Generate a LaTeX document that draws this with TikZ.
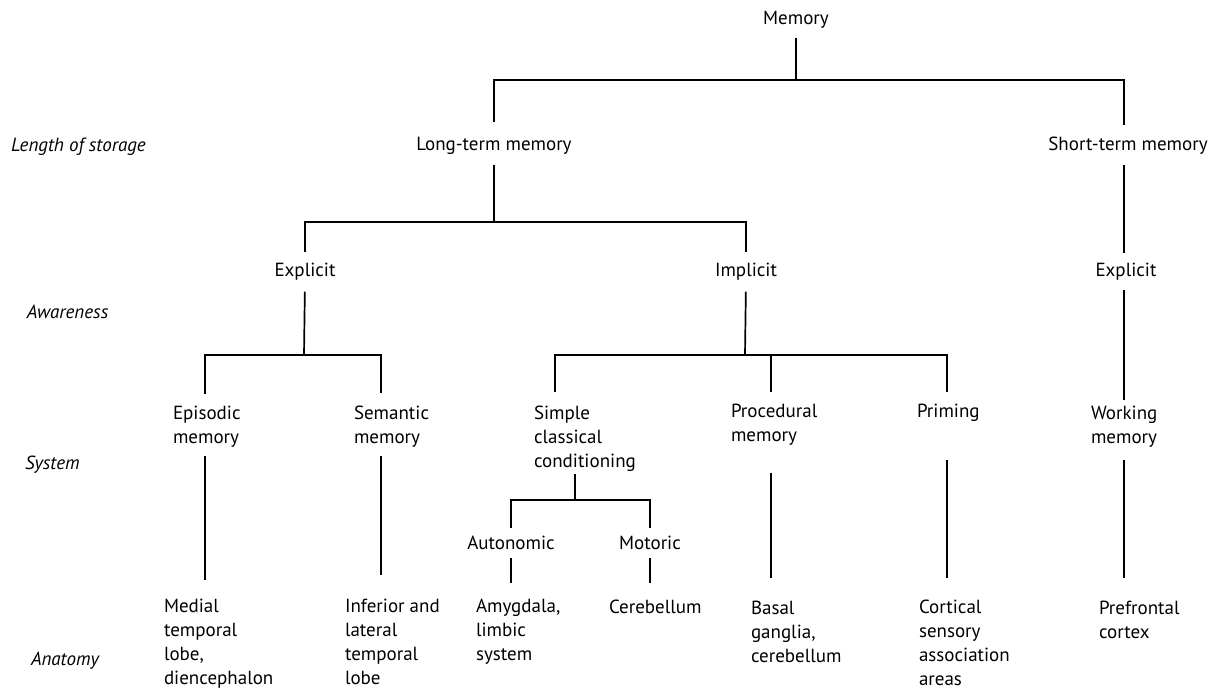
\documentclass[tikz,border=0pt]{standalone}
\usepackage{fontspec}
\setmainfont{PT Sans}
\newcommand\lblfont{\fontsize{19}{24}\selectfont}
\tikzset{
  lbl/.style={font=\lblfont, inner sep=0pt, outer sep=0pt},
  ml/.style={lbl, align=left, anchor=north west},
  rowlbl/.style={font=\lblfont\itshape, inner sep=0pt, outer sep=0pt, anchor=west},
  ln/.style={line width=1.7pt, black},
}
\begin{document}
\begin{tikzpicture}[x=1pt, y=-1pt]
\useasboundingbox (0,0) rectangle (1226,691);
% row labels
\node[rowlbl] (los) at (11,147) {Length of storage};
\node[rowlbl] (aw)  at (27,312) {Awareness};
\node[rowlbl] (sys) at (25,465) {System};
\node[rowlbl] (ana) at (31,661) {Anatomy};
% single-line nodes
\node[lbl] (mem) at (796,20) {Memory};
\node[lbl] (lt)  at (494,146) {Long-term memory};
\node[lbl] (st)  at (1128,146) {Short-term memory};
\node[lbl] (ex1) at (305,272) {Explicit};
\node[lbl] (im)  at (746,272) {Implicit};
\node[lbl] (ex2) at (1126,272) {Explicit};
\node[lbl] (aut) at (511,543) {Autonomic};
\node[lbl] (mot) at (650,543) {Motoric};
% multi-line nodes
\node[ml] (epi) at (173,406) {Episodic\\memory};
\node[ml] (sem) at (354,406) {Semantic\\memory};
\node[ml] (scc) at (534,406) {Simple\\classical\\conditioning};
\node[ml] (pro) at (731,404) {Procedural\\memory};
\node[ml] (pri) at (917,404) {Priming};
\node[ml] (wm)  at (1091,406) {Working\\memory};
\node[ml] (med) at (164,599) {Medial\\temporal\\lobe,\\diencephalon};
\node[ml] (inf) at (345,599) {Inferior and\\lateral\\temporal\\lobe};
\node[ml] (amy) at (476,599) {Amygdala,\\limbic\\system};
\node[ml] (cer) at (609,600) {Cerebellum};
\node[ml] (bas) at (751,601) {Basal\\ganglia,\\cerebellum};
\node[ml] (cor) at (919,600) {Cortical\\sensory\\association\\areas};
\node[ml] (pre) at (1099,601) {Prefrontal\\cortex};
% junctions and line columns
\coordinate (j0) at (796,80);
\coordinate (j1) at (494,222);
\coordinate (j2) at (304,355);
\coordinate (j3) at (745,355);
\coordinate (j4) at (575,500);
\coordinate (cA) at (205,0);
\coordinate (cB) at (381,0);
\coordinate (cC) at (555,0);
\coordinate (cD) at (575,0);
\coordinate (cG) at (771,0);
\coordinate (cH) at (947,0);
\coordinate (cI) at (1124,0);
% connectors
\draw[ln, shorten <=9pt] (mem.south) -- (j0);
\draw[ln, shorten <=15pt, shorten >=12pt] (lt.north) |- (j0) -| (st.north -| cI);
\draw[ln, shorten <=10pt] (lt.south) -- (j1);
\draw[ln, shorten <=11pt, shorten >=11pt] (ex1.north) |- (j1) -| (im.north);
\draw[ln, shorten <=10pt, shorten >=10pt] (st.south -| cI) -- (ex2.north -| cI);
\draw[ln, shorten <=11pt] (ex1.south) -- (j2);
\draw[ln, shorten <=12pt, shorten >=13pt] (epi.north -| cA) |- (j2) -| (sem.north -| cB);
\draw[ln, shorten <=11pt] (im.south) -- (j3);
\draw[ln, shorten <=14pt, shorten >=12pt] (scc.north -| cC) |- (j3) -| (pri.north -| cH);
\draw[ln, shorten >=12pt] (j3 -| cG) -- (pro.north -| cG);
\draw[ln, shorten <=9pt, shorten >=6pt] (ex2.south -| cI) -- (wm.north -| cI);
\draw[ln, shorten <=8.5pt, shorten >=19pt] (epi.south -| cA) -- (med.north -| cA);
\draw[ln, shorten <=8.5pt, shorten >=24pt] (sem.south -| cB) -- (inf.north -| cB);
\draw[ln, shorten <=2pt] (scc.south -| cD) -- (j4);
\draw[ln, shorten <=8pt, shorten >=8pt] (aut.north) |- (j4) -| (mot.north);
\draw[ln, shorten <=8pt, shorten >=16pt] (aut.south) -- (aut.south |- amy.north);
\draw[ln, shorten <=8pt, shorten >=17pt] (mot.south) -- (mot.south |- cer.north);
\draw[ln, shorten <=27.5pt, shorten >=23pt] (pro.south -| cG) -- (bas.north -| cG);
\draw[ln, shorten <=38.5pt, shorten >=22pt] (pri.south -| cH) -- (cor.north -| cH);
\draw[ln, shorten <=12.5pt, shorten >=23pt] (wm.south -| cI) -- (pre.north -| cI);
\end{tikzpicture}
\end{document}
